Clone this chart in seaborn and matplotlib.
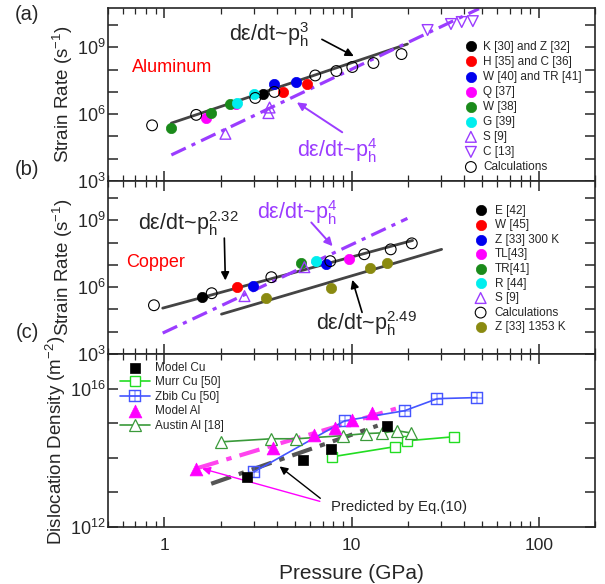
import numpy as np
import pandas as pd
import matplotlib
matplotlib.use("Agg")
import matplotlib.pyplot as plt
import seaborn as sns
from matplotlib.ticker import FixedLocator, FixedFormatter, LogLocator, NullLocator, NullFormatter

sns.set_style("ticks")
plt.rcParams['font.family'] = ['Liberation Sans', 'DejaVu Sans']
plt.rcParams['mathtext.fontset'] = 'custom'
plt.rcParams['mathtext.rm'] = 'Liberation Sans'
plt.rcParams['mathtext.it'] = 'Liberation Sans:italic'
plt.rcParams['mathtext.default'] = 'regular'

PURPLE = '#9b3cff'

# ---------------- Panel (a) Aluminum ----------------
a_KZ_x = [3.35];              a_KZ_y = [10**6.91]
a_HC_x = [4.28, 5.75];        a_HC_y = [10**7.0, 10**7.36]
a_WTR_x = [3.87, 5.08];       a_WTR_y = [10**7.34, 10**7.45]
a_Q_x = [1.67, 2.40];         a_Q_y = [10**5.85, 10**6.47]
a_W_x = [1.09, 1.78, 2.23];   a_W_y = [10**5.4, 10**6.07, 10**6.48]
a_G_x = [2.45, 3.03];         a_G_y = [10**6.5, 10**6.9]
a_S_x = [2.12, 3.6, 3.65];    a_S_y = [10**5.12, 10**6.05, 10**6.3]
a_C_x = [25.5, 34.0, 38.8, 44.5]; a_C_y = [10**9.78, 10**10.05, 10**10.14, 10**10.18]
a_calc_x = [0.86, 1.48, 3.06, 3.87, 6.4, 8.3, 10.1, 13.1, 18.5]
a_calc_y = [10**5.5, 10**5.97, 10**6.73, 10**7.0, 10**7.74, 10**7.94, 10**8.12, 10**8.3, 10**8.7]
a_fit3_x = [1.09, 19.9];      a_fit3_y = [10**5.6, 10**9.15]
a_fit4_x = [1.09, 48.0];      a_fit4_y = [10**4.17, 10**10.74]

# ---------------- Panel (b) Copper ----------------
b_E_x = [1.58];               b_E_y = [10**5.55]
b_W_x = [2.43];               b_W_y = [10**6.0]
b_Z300_x = [2.99, 7.3];       b_Z300_y = [10**6.04, 10**7.03]
b_TL_x = [9.7];               b_TL_y = [10**7.26]
b_TR_x = [5.4];               b_TR_y = [10**7.08]
b_R_x = [6.5];                b_R_y = [10**7.17]
b_S_x = [2.68, 5.6];          b_S_y = [10**5.6, 10**6.9]
b_calc_x = [0.88, 1.79, 3.73, 7.7, 11.7, 16.2, 21.0]
b_calc_y = [10**5.19, 10**5.73, 10**6.45, 10**7.17, 10**7.48, 10**7.7, 10**7.97]
b_Z1353_x = [3.5, 7.8, 12.5, 15.4]
b_Z1353_y = [10**5.5, 10**5.96, 10**6.85, 10**7.08]
b_fit232_x = [0.98, 21.2];    b_fit232_y = [10**5.06, 10**8.1]
b_fit249_x = [2.02, 30.3];    b_fit249_y = [10**4.79, 10**7.7]
b_fit4_x = [0.98, 19.9];      b_fit4_y = [10**3.94, 10**9.09]

# ---------------- Panel (c) Dislocation density ----------------
c_modelCu_x = [2.75, 5.5, 7.8, 15.4]
c_modelCu_y = [10**13.45, 10**13.94, 10**14.26, 10**14.93]
c_murr_x = [7.9, 17.0, 19.7, 35.5]
c_murr_y = [10**14.03, 10**14.32, 10**14.49, 10**14.61]
c_zbib_x = [3.03, 9.2, 19.2, 28.8, 46.6]
c_zbib_y = [10**13.6, 10**15.07, 10**15.36, 10**15.71, 10**15.74]
c_modelAl_x = [1.47, 3.83, 6.3, 8.2, 10.0, 12.8]
c_modelAl_y = [10**13.68, 10**14.29, 10**14.67, 10**14.87, 10**15.1, 10**15.3]
c_austin_x = [2.0, 3.73, 5.08, 8.96, 11.9, 14.6, 17.6, 20.7]
c_austin_y = [10**14.46, 10**14.55, 10**14.55, 10**14.64, 10**14.7, 10**14.72, 10**14.78, 10**14.72]
c_fitAl_x = [1.52, 18.0];     c_fitAl_y = [10**13.71, 10**15.45]
c_fitCu_x = [1.78, 13.8];     c_fitCu_y = [10**13.25, 10**14.93]

fig = plt.figure(figsize=(6.05, 5.84), dpi=100)
L, W = 108/605, 487/605
H = 173/584
axa = fig.add_axes([L, 1-181/584, W, H])
axb = fig.add_axes([L, 1-354/584, W, H])
axc = fig.add_axes([L, 1-527/584, W, H])

for ax in (axa, axb, axc):
    ax.set_xscale('log')
    ax.set_yscale('log')
    ax.set_xlim(0.5, 200)
    for s in ax.spines.values():
        s.set_linewidth(1.2)
    ax.tick_params(which='both', direction='in', top=True, right=True)
    ax.tick_params(axis='y', labelsize=13, pad=2)
    ax.tick_params(axis='x', labelsize=12.5, pad=8)
    ax.tick_params(which='major', length=7, width=1.1)
    ax.tick_params(which='minor', length=4, width=0.9)
    ax.xaxis.set_major_locator(FixedLocator([1, 10, 100]))
    ax.xaxis.set_minor_locator(LogLocator(base=10, subs=np.arange(2, 10), numticks=20))
    ax.xaxis.set_minor_formatter(NullFormatter())
    ax.yaxis.set_minor_locator(NullLocator())

def ylog_ticks(ax, lo, hi, labeled):
    decs = list(range(lo, hi + 1))
    ax.yaxis.set_major_locator(FixedLocator([10.0**d for d in decs]))
    ax.yaxis.set_major_formatter(FixedFormatter(
        [('$10^{%d}$' % d) if d in labeled else '' for d in decs]))

for ax in (axa, axb):
    ax.set_ylim(1e3, 10**10.77)
    ylog_ticks(ax, 3, 10, [3, 6, 9])
    ax.set_xticklabels([])
    ax.set_ylabel('Strain Rate (s$^{-1}$)', fontsize=13.5)
    ax.yaxis.set_label_coords(-0.068, 0.5)
axc.set_ylim(1e12, 1e17)
ylog_ticks(axc, 12, 17, [12, 16])
axc.set_xticklabels(['1', '10', '100'])
axc.set_ylabel('Dislocation Density (m$^{-2}$)', fontsize=13.5)
axc.yaxis.set_label_coords(-0.082, 0.5)
axc.set_xlabel('Pressure (GPa)', fontsize=15, labelpad=8)

def line(ax, x, y, color, lw, ls='-', z=2):
    sns.lineplot(x=x, y=y, ax=ax, color=color, linewidth=lw, linestyle=ls,
                 estimator=None, sort=False, errorbar=None, zorder=z)

def balls(ax, x, y, color, label, s=55):
    sns.scatterplot(x=x, y=y, ax=ax, color=color, marker='o', s=s,
                    edgecolor=color, linewidth=0.5, label=label, zorder=4)

def tri(ax, x, y, marker, label, s=60):
    sns.scatterplot(x=x, y=y, ax=ax, marker=marker, s=s, facecolors='none',
                    edgecolor=PURPLE, linewidth=1.0, label=label, zorder=4)

def opencirc(ax, x, y, label, s=60):
    sns.scatterplot(x=x, y=y, ax=ax, marker='o', s=s, facecolors='none',
                    edgecolor='black', linewidth=0.8, label=label, zorder=4)

DASHDOT = (0, (5, 2, 1.3, 2))
ANN = 15.5

# ----- panel a -----
line(axa, a_fit3_x, a_fit3_y, '#444444', 2.0)
line(axa, a_fit4_x, a_fit4_y, PURPLE, 2.3, DASHDOT)
balls(axa, a_KZ_x, a_KZ_y, 'black', 'K [30] and Z [32]')
balls(axa, a_HC_x, a_HC_y, 'red', 'H [35] and C [36]')
balls(axa, a_WTR_x, a_WTR_y, '#0000ee', 'W [40] and TR [41]')
balls(axa, a_Q_x, a_Q_y, '#ff00ff', 'Q [37]')
balls(axa, a_W_x, a_W_y, '#1a8a1a', 'W [38]')
balls(axa, a_G_x, a_G_y, '#00eeee', 'G [39]')
tri(axa, a_S_x, a_S_y, '^', 'S [9]')
tri(axa, a_C_x, a_C_y, 'v', 'C [13]')
opencirc(axa, a_calc_x, a_calc_y, 'Calculations')
axa.legend(loc='upper left', bbox_to_anchor=(0.733, 0.812), frameon=False,
           fontsize=8.5, borderpad=0, borderaxespad=0, handlelength=1.0,
           handletextpad=0.55, labelspacing=0.26)

axa.text(3.64, 10**9.6, 'dε/dt~p$_h^3$', fontsize=ANN, ha='center', va='center')
axa.annotate('', xy=(10.6, 10**8.55), xytext=(6.74, 10**9.42),
             arrowprops=dict(arrowstyle='-|>', color='black', lw=1.2, mutation_scale=12))
axa.text(8.4, 10**4.35, 'dε/dt~p$_h^4$', fontsize=ANN, ha='center', va='center', color=PURPLE)
axa.annotate('', xy=(4.96, 10**6.6), xytext=(9.18, 10**5.12),
             arrowprops=dict(arrowstyle='-|>', color=PURPLE, lw=1.4, mutation_scale=12))
axa.text(1.1, 10**8.08, 'Aluminum', fontsize=13, ha='center', va='center', color='red')

# ----- panel b -----
line(axb, b_fit232_x, b_fit232_y, '#444444', 2.0)
line(axb, b_fit249_x, b_fit249_y, '#444444', 2.0)
line(axb, b_fit4_x, b_fit4_y, PURPLE, 2.3, DASHDOT)
balls(axb, b_E_x, b_E_y, 'black', 'E [42]')
balls(axb, b_W_x, b_W_y, 'red', 'W [45]')
balls(axb, b_Z300_x, b_Z300_y, '#0000ee', 'Z [33] 300 K')
balls(axb, b_TL_x, b_TL_y, '#ff00ff', 'TL[43]')
balls(axb, b_TR_x, b_TR_y, '#1a8a1a', 'TR[41]')
balls(axb, b_R_x, b_R_y, '#00eeee', 'R [44]')
tri(axb, b_S_x, b_S_y, '^', 'S [9]')
opencirc(axb, b_calc_x, b_calc_y, 'Calculations')
balls(axb, b_Z1353_x, b_Z1353_y, '#8a8a10', 'Z [33] 1353 K')
axb.legend(loc='upper left', bbox_to_anchor=(0.753, 0.864), frameon=False,
           fontsize=8.5, borderpad=0, borderaxespad=0, handlelength=1.0,
           handletextpad=0.7, labelspacing=0.22)

axb.text(1.34, 10**8.87, 'dε/dt~p$_h^{2.32}$', fontsize=ANN, ha='center', va='center')
axb.annotate('', xy=(2.12, 10**6.18), xytext=(2.09, 10**8.33),
             arrowprops=dict(arrowstyle='-|>', color='black', lw=1.2, mutation_scale=12))
axb.text(5.14, 10**9.36, 'dε/dt~p$_h^4$', fontsize=ANN, ha='center', va='center', color=PURPLE)
axb.annotate('', xy=(8.11, 10**7.75), xytext=(5.96, 10**9.0),
             arrowprops=dict(arrowstyle='-|>', color=PURPLE, lw=1.4, mutation_scale=12))
axb.text(0.9, 10**7.12, 'Copper', fontsize=13, ha='center', va='center', color='red')
axb.text(12.0, 10**4.35, 'dε/dt~p$_h^{2.49}$', fontsize=ANN, ha='center', va='center')
axb.annotate('', xy=(10.0, 10**6.45), xytext=(11.5, 10**4.75),
             arrowprops=dict(arrowstyle='-|>', color='black', lw=1.2, mutation_scale=12))

# ----- panel c -----
line(axc, c_fitAl_x, c_fitAl_y, '#ff44ee', 3.0, DASHDOT, z=3)
line(axc, c_fitCu_x, c_fitCu_y, '#555555', 3.0, DASHDOT, z=3)
sns.scatterplot(x=c_modelCu_x, y=c_modelCu_y, ax=axc, marker='s', s=55, color='black',
                edgecolor='black', linewidth=0.5, label='Model Cu', zorder=5)
sns.lineplot(x=c_murr_x, y=c_murr_y, ax=axc, color='#22dd22', linewidth=1.2, marker='s',
             markersize=7.5, markerfacecolor='white', markeredgecolor='#22dd22',
             markeredgewidth=1.0, estimator=None, sort=False, label='Murr Cu [50]', zorder=4)
sns.lineplot(x=c_zbib_x, y=c_zbib_y, ax=axc, color='#4455ff', linewidth=1.2, marker=r'$\boxplus$',
             markersize=8, markerfacecolor='#4455ff', markeredgecolor='#4455ff',
             markeredgewidth=0.3, estimator=None, sort=False, label='Zbib Cu [50]', zorder=4)
sns.scatterplot(x=c_modelAl_x, y=c_modelAl_y, ax=axc, marker='^', s=85, color='#ff00ff',
                edgecolor='#ff00ff', linewidth=0.5, label='Model Al', zorder=5)
sns.lineplot(x=c_austin_x, y=c_austin_y, ax=axc, color='#3a9a3a', linewidth=1.2, marker='^',
             markersize=8, markerfacecolor='white', markeredgecolor='#3a9a3a',
             markeredgewidth=0.9, estimator=None, sort=False, label='Austin Al [18]', zorder=4)
axc.legend(loc='upper left', bbox_to_anchor=(0.025, 0.954), frameon=False,
           fontsize=8.5, borderpad=0, borderaxespad=0, handlelength=2.5,
           handletextpad=0.45, labelspacing=0.21)

axc.text(7.8, 10**12.58, 'Predicted by Eq.(10)', fontsize=10.7, ha='left', va='center')
axc.annotate('', xy=(4.02, 10**13.8), xytext=(7.0, 10**12.78),
             arrowprops=dict(arrowstyle='-|>', color='black', lw=1.0, mutation_scale=12))
axc.annotate('', xy=(1.54, 10**13.71), xytext=(7.0, 10**12.72),
             arrowprops=dict(arrowstyle='-|>', color='#ff00ff', lw=1.0, mutation_scale=12))

fig.text(27/605, 1-15/584, '(a)', fontsize=14.5, ha='center', va='center')
fig.text(27/605, 1-170/584, '(b)', fontsize=14.5, ha='center', va='center')
fig.text(27/605, 1-333/584, '(c)', fontsize=14.5, ha='center', va='center')

fig.savefig('out.png', dpi=100)
